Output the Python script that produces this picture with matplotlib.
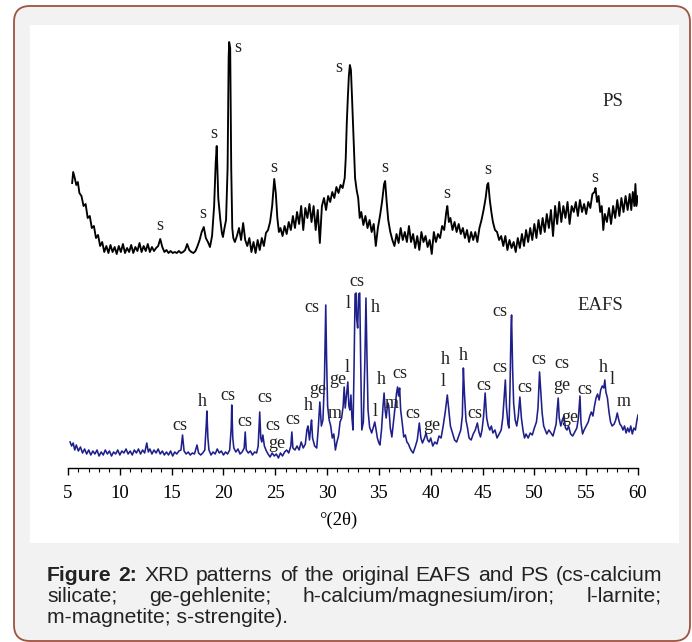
import matplotlib
matplotlib.use("Agg")
import matplotlib.pyplot as plt
from matplotlib.patches import FancyBboxPatch, Rectangle
from matplotlib.ticker import MultipleLocator

# ---- data (2theta in degrees, intensity in a.u.) ----
ps_deg = [5.4, 5.5, 5.65, 5.8, 5.95, 6.1, 6.3, 6.5, 6.7, 6.9, 7.1, 7.3, 7.5, 7.7, 7.9, 8.1, 8.3, 8.5,
          8.7, 8.9, 9.1, 9.3, 9.5, 9.7, 9.9, 10.1, 10.3, 10.5, 10.7, 10.9, 11.1, 11.3, 11.5, 11.7, 11.9,
          12.1, 12.3, 12.5, 12.7, 12.9, 13.1, 13.3, 13.5, 13.7, 13.9, 14.1, 14.3, 14.5, 14.7, 14.9,
          15.1, 15.3, 15.5, 15.7, 15.9, 16.1, 16.3, 16.5, 16.7, 16.9, 17.1, 17.3, 17.5, 17.7, 17.9,
          18.1, 18.3, 18.5, 18.7, 18.9, 19.1, 19.25, 19.35, 19.5, 19.7, 19.85, 19.95, 20.1, 20.25,
          20.4, 20.5, 20.55, 20.65, 20.75, 20.85, 20.95, 21.1, 21.3, 21.5, 21.7, 21.9, 22.1, 22.3,
          22.5, 22.7, 22.9, 23.1, 23.3, 23.5, 23.7, 23.9, 24.1, 24.3, 24.5, 24.7, 24.9, 25.05, 25.2,
          25.35, 25.5, 25.7, 25.9, 26.1, 26.3, 26.5, 26.7, 26.9, 27.1, 27.3, 27.5, 27.7, 27.9, 28.1,
          28.3, 28.5, 28.7, 28.9, 29.1, 29.3, 29.5, 29.7, 29.9, 30.1, 30.3, 30.5, 30.7, 30.9, 31.1,
          31.3, 31.5, 31.7, 31.8, 31.9, 32.0, 32.1, 32.2, 32.3, 32.4, 32.55, 32.7, 32.85, 33.0, 33.15,
          33.3, 33.5, 33.7, 33.9, 34.1, 34.3, 34.5, 34.7, 34.9, 35.1, 35.3, 35.5, 35.6, 35.75, 35.9,
          36.1, 36.3, 36.5, 36.7, 36.9, 37.1, 37.3, 37.5, 37.7, 37.9, 38.1, 38.3, 38.5, 38.7, 38.9,
          39.1, 39.3, 39.5, 39.7, 39.9, 40.1, 40.3, 40.5, 40.7, 40.9, 41.1, 41.3, 41.5, 41.6, 41.75,
          41.9, 42.1, 42.3, 42.5, 42.7, 42.9, 43.1, 43.3, 43.5, 43.7, 43.9, 44.1, 44.3, 44.5, 44.7,
          44.9, 45.1, 45.3, 45.45, 45.55, 45.7, 45.85, 46.0, 46.2, 46.4, 46.6, 46.8, 47.0, 47.2, 47.4,
          47.6, 47.8, 48.0, 48.2, 48.4, 48.6, 48.8, 49.0, 49.2, 49.4, 49.6, 49.8, 50.0, 50.2, 50.4,
          50.6, 50.8, 51.0, 51.2, 51.4, 51.6, 51.8, 52.0, 52.2, 52.4, 52.6, 52.8, 53.0, 53.2, 53.4,
          53.6, 53.8, 54.0, 54.2, 54.4, 54.6, 54.8, 55.0, 55.2, 55.4, 55.6, 55.8, 55.9, 56.05, 56.2,
          56.35, 56.5, 56.65, 56.8, 57.0, 57.2, 57.4, 57.6, 57.8, 58.0, 58.2, 58.4, 58.6, 58.8, 59.0,
          59.2, 59.35, 59.5, 59.65, 59.75, 59.85, 60.0]
ps_int = [285, 296, 290, 283, 286, 275, 272, 262, 264, 250, 252, 240, 242, 230, 233, 222, 226, 216,
          222, 215, 223, 216, 221, 214, 222, 216, 224, 215, 220, 216, 223, 215, 221, 217, 225,
          216, 222, 217, 224, 216, 221, 217, 220, 222, 229, 221, 216, 218, 215, 217,
          215, 216, 215, 217, 215, 216, 218, 224, 218, 216, 215, 217, 222, 228, 236,
          241, 230, 226, 221, 232, 262, 305, 322, 270, 248, 235, 231, 240, 248,
          300, 410, 426, 420, 300, 240, 230, 226, 232, 240, 228, 245, 228, 222,
          230, 216, 226, 215, 228, 218, 230, 222, 235, 238, 246, 262, 289, 275, 250,
          236, 240, 232, 242, 234, 246, 238, 252, 240, 256, 244, 262, 238, 260, 250,
          264, 246, 262, 238, 258, 225, 262, 270, 258, 272, 266, 276, 270, 281, 275,
          283, 280, 290, 310, 345, 370, 392, 403, 398, 372, 330, 290, 278, 270, 250,
          256, 243, 252, 240, 248, 236, 244, 222, 240, 252, 266, 284, 287, 266, 248,
          236, 228, 222, 234, 225, 240, 228, 236, 226, 242, 226, 234, 220, 232, 218,
          236, 226, 232, 221, 228, 214, 236, 226, 234, 230, 242, 238, 256, 262, 246,
          250, 238, 246, 236, 244, 234, 240, 230, 238, 226, 236, 228, 236, 226, 240,
          248, 258, 270, 283, 285, 268, 256, 246, 238, 236, 228, 232, 222, 232, 218,
          228, 220, 226, 216, 230, 220, 234, 222, 238, 226, 240, 228, 244, 230, 248,
          234, 250, 236, 254, 240, 258, 232, 262, 244, 266, 246, 262, 250, 266, 244,
          262, 256, 266, 252, 268, 256, 264, 254, 266, 260, 274, 276, 280, 266, 272,
          256, 262, 238, 254, 246, 260, 244, 262, 250, 268, 252, 270, 256, 272, 258,
          274, 258, 276, 262, 284, 262, 272]

eafs_deg = [5.2, 5.35, 5.5, 5.65, 5.8, 6.0, 6.2, 6.4, 6.6, 6.8, 7.0, 7.2, 7.4, 7.6, 7.8, 8.0, 8.2,
            8.4, 8.6, 8.8, 9.0, 9.2, 9.4, 9.6, 9.8, 10.0, 10.2, 10.4, 10.6, 10.8, 11.0, 11.2, 11.4,
            11.6, 11.8, 12.0, 12.2, 12.4, 12.6, 12.75, 12.9, 13.1, 13.3, 13.5, 13.7, 13.9, 14.1,
            14.3, 14.5, 14.7, 14.9, 15.1, 15.3, 15.5, 15.7, 15.9, 16.05, 16.2, 16.4, 16.6, 16.8,
            17.0, 17.2, 17.45, 17.6, 17.8, 18.0, 18.2, 18.35, 18.4, 18.5, 18.6, 18.8, 19.0, 19.2,
            19.4, 19.6, 19.8, 20.0, 20.2, 20.4, 20.6, 20.75, 20.8, 20.9, 21.0, 21.2, 21.4, 21.6,
            21.8, 22.0, 22.1, 22.2, 22.4, 22.6, 22.8, 23.0, 23.2, 23.35, 23.45, 23.5, 23.6, 23.7,
            23.8, 23.95, 24.1, 24.3, 24.5, 24.7, 24.9, 25.1, 25.3, 25.5, 25.7, 25.9, 26.1, 26.3,
            26.5, 26.6, 26.7, 26.9, 27.1, 27.3, 27.5, 27.7, 27.9, 28.05, 28.15, 28.3, 28.45, 28.5,
            28.6, 28.8, 29.0, 29.15, 29.3, 29.45, 29.6, 29.75, 29.87, 29.95, 30.05, 30.2, 30.35,
            30.5, 30.65, 30.8, 30.95, 31.1, 31.25, 31.4, 31.55, 31.65, 31.75, 31.85, 32.0, 32.1,
            32.2, 32.3, 32.4, 32.5, 32.6, 32.7, 32.8, 32.85, 32.95, 33.05, 33.15, 33.25, 33.35,
            33.5, 33.65, 33.75, 33.85, 33.95, 34.1, 34.3, 34.5, 34.6, 34.7, 34.85, 35.0, 35.1,
            35.25, 35.4, 35.5, 35.6, 35.7, 35.85, 35.95, 36.1, 36.25, 36.4, 36.55, 36.7, 36.8,
            36.9, 37.0, 37.1, 37.25, 37.4, 37.55, 37.7, 37.85, 38.0, 38.15, 38.3, 38.5, 38.7,
            38.9, 39.05, 39.2, 39.4, 39.55, 39.7, 39.85, 40.0, 40.2, 40.4, 40.6, 40.8, 41.0, 41.2,
            41.4, 41.6, 41.75, 41.9, 42.1, 42.3, 42.5, 42.7, 42.9, 43.05, 43.15, 43.25, 43.4,
            43.55, 43.7, 43.9, 44.1, 44.3, 44.5, 44.65, 44.8, 44.95, 45.1, 45.25, 45.4, 45.55,
            45.7, 45.85, 46.0, 46.2, 46.4, 46.6, 46.8, 46.95, 47.1, 47.2, 47.3, 47.45, 47.55,
            47.65, 47.75, 47.8, 47.9, 48.0, 48.15, 48.3, 48.45, 48.6, 48.75, 48.9, 49.05, 49.2,
            49.4, 49.6, 49.8, 50.0, 50.2, 50.35, 50.5, 50.6, 50.75, 50.9, 51.05, 51.2, 51.4, 51.6,
            51.8, 51.95, 52.1, 52.2, 52.3, 52.4, 52.55, 52.7, 52.85, 53.0, 53.15, 53.3, 53.5,
            53.7, 53.9, 54.1, 54.25, 54.4, 54.5, 54.65, 54.8, 55.0, 55.2, 55.35, 55.5, 55.65,
            55.8, 55.95, 56.1, 56.25, 56.4, 56.55, 56.7, 56.8, 56.9, 57.05, 57.2, 57.35, 57.5,
            57.7, 57.85, 58.0, 58.1, 58.25, 58.4, 58.55, 58.7, 58.85, 59.0, 59.15, 59.3, 59.45,
            59.6, 59.75, 59.9, 60.0]
eafs_int = [26, 22, 25, 18, 23, 17, 21, 15, 19, 14, 18, 13, 17, 14, 18, 12, 16,
            13, 18, 14, 17, 12, 16, 14, 18, 13, 17, 15, 19, 14, 17, 13, 18,
            15, 19, 14, 18, 15, 25, 16, 19, 14, 18, 15, 19, 14, 17,
            13, 16, 13, 17, 12, 16, 14, 17, 18, 33, 17, 14, 16, 13,
            15, 14, 23, 15, 13, 15, 18, 45, 57, 30, 18, 13, 16, 14,
            19, 15, 17, 13, 16, 14, 18, 40, 63, 30, 20, 16, 19, 14,
            16, 20, 36, 18, 15, 17, 13, 16, 15, 22, 45, 56, 30, 26,
            33, 22, 18, 14, 11, 15, 12, 14, 10, 15, 12, 16, 18, 15,
            22, 36, 20, 18, 22, 18, 26, 20, 24, 38, 42, 28, 44, 48,
            30, 22, 20, 40, 66, 42, 48, 90, 163, 110, 62, 48, 42,
            30, 34, 18, 26, 32, 46, 50, 62, 81, 60, 70, 86, 62,
            58, 73, 50, 38, 100, 174, 175, 150, 140, 174, 175, 100, 38,
            46, 110, 170, 110, 58, 41, 35, 42, 46, 40, 30, 25, 23,
            38, 62, 75, 58, 50, 65, 62, 40, 31, 45, 60, 75, 81,
            72, 80, 58, 45, 31, 33, 26, 24, 20, 17, 15, 21, 28,
            45, 30, 25, 30, 35, 28, 26, 30, 22, 26, 24, 32, 30, 42,
            56, 73, 58, 42, 35, 28, 26, 32, 38, 52, 100, 75, 48,
            40, 30, 28, 34, 38, 45, 36, 31, 38, 52, 75, 50, 42,
            38, 42, 35, 38, 30, 34, 38, 50, 72, 88, 62, 44, 40,
            80, 140, 153, 100, 65, 48, 42, 52, 71, 50, 38, 30, 34,
            30, 35, 33, 40, 46, 60, 96, 80, 55, 42, 38, 34, 38, 35,
            32, 38, 44, 58, 70, 50, 42, 48, 52, 40, 38, 42, 34,
            32, 36, 40, 50, 72, 45, 34, 38, 42, 46, 52, 56, 52,
            62, 70, 74, 68, 78, 82, 80, 88, 76, 70, 56, 46, 42,
            44, 48, 55, 50, 44, 42, 38, 42, 35, 40, 36, 42, 34,
            40, 38, 48, 53]

# phase labels: text, 2theta, height
ps_labels = [("s", 13.88, 242), ("s", 18.03, 255), ("s", 19.09, 335), ("s", 21.40, 420),
             ("s", 24.88, 301), ("s", 31.15, 400), ("s", 35.59, 300), ("s", 41.57, 275),
             ("s", 45.53, 298), ("s", 55.85, 290)]
eafs_labels = [("cs", 15.81, 42), ("h", 17.93, 66), ("cs", 20.44, 72), ("cs", 22.08, 46),
               ("cs", 24.01, 70), ("cs", 24.78, 43), ("ge", 25.17, 25), ("cs", 26.71, 48),
               ("h", 28.16, 63), ("ge", 29.12, 78), ("cs", 28.54, 161), ("m", 30.76, 54),
               ("ge", 31.05, 88), ("l", 31.92, 101), ("l", 32.02, 165), ("cs", 32.89, 186),
               ("h", 34.62, 160), ("h", 35.20, 88), ("l", 34.62, 56), ("m", 36.26, 65),
               ("cs", 37.03, 95), ("cs", 38.29, 55), ("ge", 40.12, 43), ("h", 41.38, 108),
               ("l", 41.18, 86), ("h", 43.11, 113), ("cs", 44.27, 54), ("cs", 45.14, 83),
               ("cs", 46.68, 101), ("cs", 46.68, 156), ("cs", 49.10, 81), ("cs", 50.45, 108),
               ("cs", 52.67, 105), ("ge", 52.67, 83), ("ge", 53.44, 51), ("cs", 54.89, 79),
               ("h", 56.62, 101), ("l", 57.49, 88), ("m", 58.65, 66)]
sample_names = [("PS", 57.6, 367), ("EAFS", 56.33, 163)]

caption_1 = [("Figure", True), ("2:", True), ("XRD", False), ("patterns", False), ("of", False),
             ("the", False), ("original", False), ("EAFS", False), ("and", False), ("PS", False),
             ("(cs-calcium", False)]
caption_2 = [("silicate;", False), ("ge-gehlenite;", False), ("h-calcium/magnesium/iron;", False),
             ("l-larnite;", False)]
caption_3 = "m-magnetite; s-strengite)."

W, H = 692, 642
fig = plt.figure(figsize=(W / 100, H / 100), dpi=100, facecolor="white")

# rounded frame + white panel (behind the axes)
frame = FancyBboxPatch((14 / 100, 1 / 100), (690 - 14) / 100, (636 - 1) / 100,
                       boxstyle="round,pad=0,rounding_size=0.16", transform=fig.dpi_scale_trans,
                       facecolor="#f2f2f2", edgecolor="#a0523f", linewidth=1.3, zorder=-2)
fig.patches.append(frame)
panel = Rectangle((30 / 100, (H - 543) / 100), (679 - 30) / 100, (543 - 25) / 100,
                  transform=fig.dpi_scale_trans, facecolor="white", edgecolor="none", zorder=-1)
fig.patches.append(panel)

ax = fig.add_axes([68 / W, 1 - 468 / H, 570 / W, 438 / H])
ax.set_facecolor("none")
ax.plot(ps_deg, ps_int, color="black", lw=1.35)
ax.plot(eafs_deg, eafs_int, color="#1f1f8c", lw=1.15)

serif = "Liberation Serif"
for txt, x, y in ps_labels + eafs_labels:
    ax.text(x, y, txt, ha="center", va="center", fontsize=13, family=serif, color="#222222")
for txt, x, y in sample_names:
    ax.text(x, y, txt, ha="center", va="center", fontsize=13.5, family=serif, color="#222222")

ax.set_xlim(5, 60)
ax.set_ylim(0, 438)
for s in ["left", "right", "top"]:
    ax.spines[s].set_visible(False)
ax.spines["bottom"].set_linewidth(1.0)
ax.set_yticks([])
ax.xaxis.set_major_locator(MultipleLocator(5))
ax.xaxis.set_minor_locator(MultipleLocator(1))
ax.tick_params(axis="x", which="major", direction="out", length=5, width=1, pad=7,
               labelsize=13.5)
ax.tick_params(axis="x", which="minor", direction="out", length=3, width=0.8)
for lab in ax.get_xticklabels():
    lab.set_family(serif)
ax.set_xlabel("°(2θ)", fontsize=13.5, family=serif)
ax.xaxis.set_label_coords((338 - 68) / 570, (468 - 512) / 438)

# caption, justified like the page
renderer = fig.canvas.get_renderer()
csize = 15.2


def put_line(words, y_px, x0=47, x1=662):
    texts = []
    for w, bold in words:
        t = fig.text(0, 1 - y_px / H, w, fontsize=csize, family="Liberation Sans",
                     weight="bold" if bold else "normal", va="baseline", ha="left", color="#222222")
        texts.append(t)
    widths = [t.get_window_extent(renderer).width for t in texts]
    gap = (x1 - x0 - sum(widths)) / (len(words) - 1)
    x = x0
    for t, w in zip(texts, widths):
        t.set_x(x / W)
        x += w + gap


put_line(caption_1, 581)
put_line(caption_2, 602)
fig.text(47 / W, 1 - 623 / H, caption_3, fontsize=csize, family="Liberation Sans",
         va="baseline", ha="left", color="#222222")

fig.savefig("out.png", dpi=100, facecolor="white")
